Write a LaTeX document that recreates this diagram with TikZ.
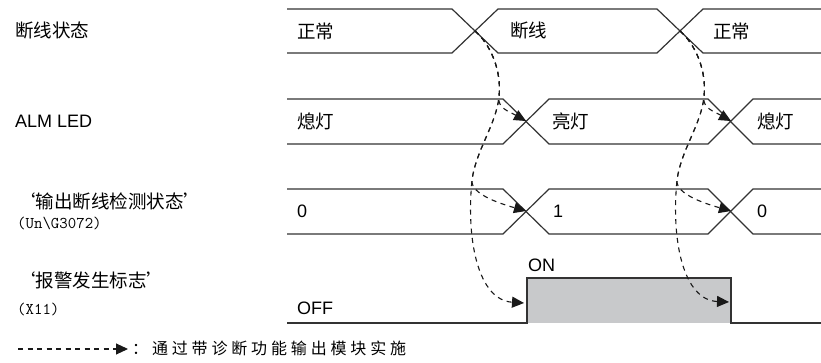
\documentclass[tikz,border=0pt]{standalone}
\usepackage{fontspec}
\setmainfont{Liberation Sans}
\newfontfamily\cjk{Noto Sans CJK SC}
\newfontfamily\cjkwide[LetterSpace=24]{Noto Sans CJK SC}
\usepackage{tikz}
\usetikzlibrary{arrows.meta}
\definecolor{sigline}{HTML}{333333}
\definecolor{flaggray}{HTML}{C8C9CB}

\begin{document}
\begin{tikzpicture}[x=1pt, y=-1pt,
        every node/.style={font=\fontsize{18}{20}\selectfont, inner sep=0pt, anchor=west},
        signame/.style={font=\fontsize{18.5}{20}\selectfont\cjk},
        addr/.style={font=\fontsize{16.4}{18}\selectfont\ttfamily},
        val/.style={font=\fontsize{18.5}{20}\selectfont\cjk},
        sig/.style={draw=sigline, line width=1.2pt},
        flow/.style={dash pattern=on 5pt off 4.5pt, line width=1.1pt, draw=black!90,
                     -{Triangle[length=12pt, width=11pt]}}]

      \useasboundingbox (0,0) rectangle (821,363);

      % signal names
      \node[signame] (brkName) at (15,30)  {断线状态};
      \node          (ledName) at (15,121) {ALM LED};
      \node[signame] (detName) at (17,201) {‘输出断线检测状态’};
      \node[addr]    (detAddr) at (17,223) {(Un\textbackslash G3072)};
      \node[signame] (almName) at (17,280) {‘报警发生标志’};
      \node[addr]    (almAddr) at (17,309) {(X11)};

      % waveforms
      \draw[sig] (287,9)   -- (452,9)   -- (498,53)  -- (657,53)  -- (703,9)   -- (821,9);
      \draw[sig] (287,53)  -- (452,53)  -- (498,9)   -- (657,9)   -- (703,53)  -- (821,53);
      \draw[sig] (287,99)  -- (503,99)  -- (549,144) -- (708,144) -- (753,99)  -- (821,99);
      \draw[sig] (287,144) -- (503,144) -- (549,99)  -- (708,99)  -- (753,144) -- (821,144);
      \draw[sig] (287,189) -- (503,189) -- (549,234) -- (708,234) -- (753,189) -- (821,189);
      \draw[sig] (287,234) -- (503,234) -- (549,189) -- (708,189) -- (753,234) -- (821,234);
      \fill[flaggray] (527,278) rectangle (731,323);
      \draw[sig] (287,323) -- (527,323) -- (527,278) -- (731,278) -- (731,323) -- (821,323);

      % values
      \node[val] (brkV1) at (297,31)  {正常};
      \node[val] (brkV2) at (510,31)  {断线};
      \node[val] (brkV3) at (713,31)  {正常};
      \node[val] (ledV1) at (297,121) {熄灯};
      \node[val] (ledV2) at (552,121) {亮灯};
      \node[val] (ledV3) at (757,121) {熄灯};
      \node      (detV1) at (297,211) {0};
      \node      (detV2) at (553,211) {1};
      \node      (detV3) at (757,211) {0};
      \node      (almOn)  at (528,265) {ON};
      \node      (almOff) at (297,308) {OFF};

      % crossing points and arrow targets
      \coordinate (brk1) at (475,31);
      \coordinate (spl1) at (499,97);
      \coordinate (fork1) at (472,180);
      \coordinate (led1) at (526,121);
      \coordinate (det1) at (526,211);
      \coordinate (flg1) at (524,303);

      \coordinate (brk2) at (680,31);
      \coordinate (spl2) at (704,97);
      \coordinate (fork2) at (677,180);
      \coordinate (led2) at (731,121);
      \coordinate (det2) at (731,211);
      \coordinate (flg2) at (729,302);

      \draw[flow] (brk1) .. controls (490,44) and (502,70) .. (spl1)
                         .. controls (497,108) and (510,112) .. (led1);
      \draw[flow] (brk1) .. controls (490,44) and (502,70) .. (spl1)
                         .. controls (496,125) and (476,150) .. (fork1)
                         .. controls (470,195) and (505,205) .. (det1);
      \draw[flow] (brk1) .. controls (490,44) and (502,70) .. (spl1)
                         .. controls (496,125) and (476,150) .. (fork1)
                         .. controls (466,240) and (478,300) .. (flg1);

      \draw[flow] (brk2) .. controls (695,44) and (707,70) .. (spl2)
                         .. controls (702,108) and (715,112) .. (led2);
      \draw[flow] (brk2) .. controls (695,44) and (707,70) .. (spl2)
                         .. controls (701,125) and (681,150) .. (fork2)
                         .. controls (675,195) and (710,205) .. (det2);
      \draw[flow] (brk2) .. controls (695,44) and (707,70) .. (spl2)
                         .. controls (701,125) and (681,150) .. (fork2)
                         .. controls (671,240) and (683,300) .. (flg2);

      % legend
      \coordinate (keyS) at (18,349);
      \coordinate (keyE) at (128,349);
      \draw[flow] (keyS) -- (keyE);
      \node[font=\fontsize{16}{18}\selectfont\cjkwide] (keyTxt) at (132,348) {：通过带诊断功能输出模块实施};
    \end{tikzpicture}
\end{document}
